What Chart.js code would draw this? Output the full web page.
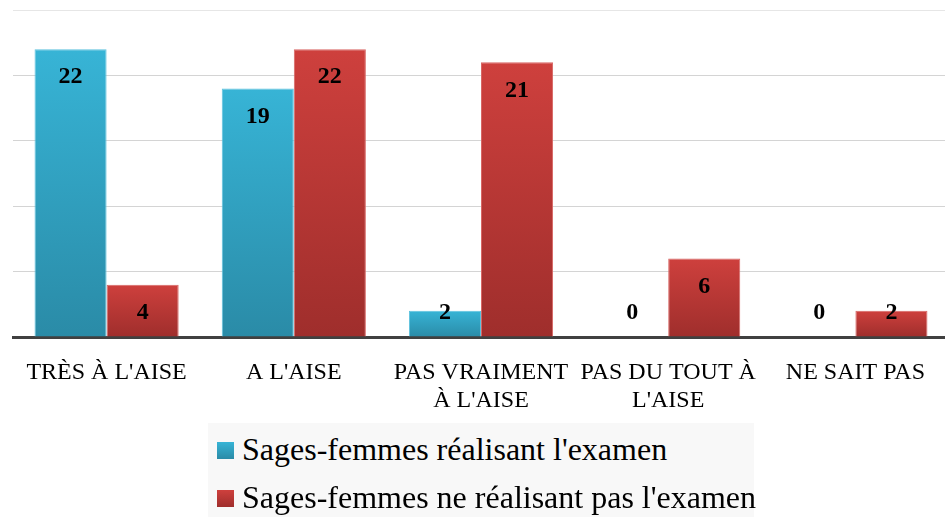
<!DOCTYPE html>
<html>
<head>
<meta charset="utf-8">
<script src="https://cdn.jsdelivr.net/npm/chart.js@4.4.0/dist/chart.umd.min.js"></script>
<style>
    body { margin: 0; background: #fff; overflow: hidden; }
    #wrap { position: relative; width: 945px; height: 517px; overflow: hidden; }
    #legend {
        position: absolute; left: 208px; top: 423px; width: 546px; height: 94px;
        background: #f8f8f8; font-family: "Liberation Serif", serif; font-size: 32px; color: #000;
    }
    .item { position: absolute; left: 0; white-space: nowrap; line-height: 48px; }
    .box { position: absolute; left: 9px; width: 17px; height: 17px; }
    .txt { position: absolute; left: 34px; top: 0; }
</style>
</head>
<body>
<div id="wrap">
    <canvas id="chart" width="949" height="517"></canvas>
    <div id="legend"></div>
</div>
<script>
// Data
const categories = [["TRÈS À L'AISE"], ["A L'AISE"], ["PAS VRAIMENT", "À L'AISE"], ["PAS DU TOUT À", "L'AISE"], ["NE SAIT PAS"]];
const seriesNames = ["Sages-femmes réalisant l'examen", "Sages-femmes ne réalisant pas l'examen"];
const realisant = [22, 19, 2, 0, 0];
const nonRealisant = [4, 22, 21, 6, 2];
const yTicks = [0, 5, 10, 15, 20, 25];

const blue = { top: "#37b4d6", bottom: "#2a8ba7", edge: "#5cc2de" };
const red = { top: "#ce403d", bottom: "#9f2e2c", edge: "#d86664" };

// vertical gradient over each bar
function barGradient(colors) {
    return function(context) {
        const chart = context.chart;
        if (!chart.chartArea || !chart.scales.y) return colors.top;
        const yScale = chart.scales.y;
        const y0 = yScale.getPixelForValue(context.raw);
        const y1 = yScale.getPixelForValue(0);
        if (y1 - y0 < 1) return colors.top;
        const g = chart.ctx.createLinearGradient(0, y0, 0, y1);
        g.addColorStop(0, colors.top);
        g.addColorStop(1, colors.bottom);
        return g;
    };
}

// value labels inside the bars
const valueLabels = {
    id: "valueLabels",
    afterDatasetsDraw(chart) {
        const ctx = chart.ctx;
        const base = chart.scales.y.getPixelForValue(0);
        ctx.save();
        ctx.font = "bold 24px 'Liberation Serif', serif";
        ctx.fillStyle = "#000";
        ctx.textAlign = "center";
        ctx.textBaseline = "middle";
        chart.data.datasets.forEach((ds, i) => {
            chart.getDatasetMeta(i).data.forEach((bar, j) => {
                const y = Math.min(bar.y + 28, base - 24);
                ctx.fillText(String(ds.data[j]), bar.x, y);
            });
        });
        ctx.restore();
    }
};

const palette = [blue, red];

new Chart(document.getElementById("chart"), {
    type: "bar",
    data: {
        labels: categories,
        datasets: [
            {
                label: seriesNames[0],
                data: realisant,
                backgroundColor: barGradient(blue),
                borderColor: blue.edge,
                borderWidth: 1
            },
            {
                label: seriesNames[1],
                data: nonRealisant,
                backgroundColor: barGradient(red),
                borderColor: red.edge,
                borderWidth: 1
            }
        ]
    },
    options: {
        responsive: false,
        animation: false,
        categoryPercentage: 0.77,
        barPercentage: 1.0,
        layout: { padding: { left: 13, right: 0, top: 10, bottom: 94 } },
        plugins: {
            legend: { display: false },
            tooltip: { enabled: false }
        },
        scales: {
            x: {
                grid: { display: false },
                border: { color: "#404040", width: 3 },
                ticks: {
                    color: "#000",
                    font: { family: "'Liberation Serif', serif", size: 24, lineHeight: 1.17 },
                    padding: 14,
                    maxRotation: 0,
                    autoSkip: false
                },
                afterFit(scale) { scale.height = 86; }
            },
            y: {
                min: yTicks[0],
                max: yTicks[yTicks.length - 1],
                afterBuildTicks(scale) { scale.ticks = yTicks.map(v => ({ value: v })); },
                ticks: { display: false },
                border: { display: false },
                grid: {
                    drawTicks: false,
                    color: ctx => ctx.index === yTicks.length - 1 ? "#e6e6e6" : "#d4d4d4"
                },
                afterFit(scale) { scale.width = 0; }
            }
        }
    },
    plugins: [valueLabels]
});

// legend box below the chart
const legend = document.getElementById("legend");
seriesNames.forEach((name, i) => {
    const item = document.createElement("div");
    item.className = "item";
    item.style.top = (2 + i * 48) + "px";
    const box = document.createElement("span");
    box.className = "box";
    box.style.top = "17px";
    box.style.background = "linear-gradient(" + palette[i].top + ", " + palette[i].bottom + ")";
    const txt = document.createElement("span");
    txt.className = "txt";
    txt.textContent = name;
    item.appendChild(box);
    item.appendChild(txt);
    legend.appendChild(item);
});
</script>
</body>
</html>
